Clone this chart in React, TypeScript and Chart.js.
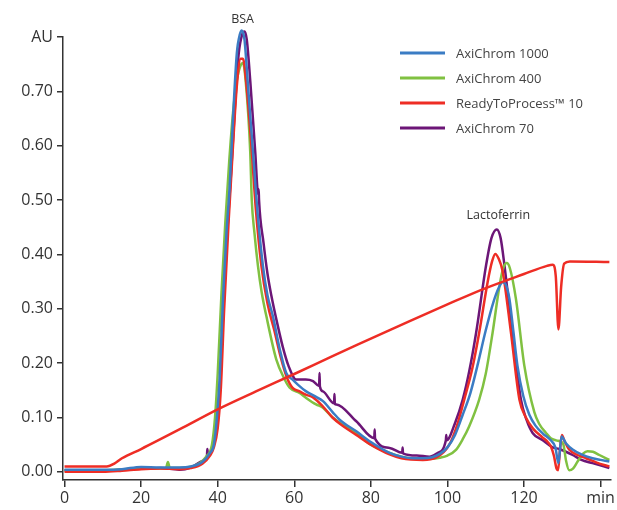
import { useEffect, useRef } from "react";
import { Chart, registerables } from "chart.js";

Chart.register(...registerables);

// AxiChrom 1000
const ax1000Min = [0, 5, 10, 15, 20, 25, 30, 33, 36, 38, 39, 39.8, 40.5, 41.4, 42.3, 43.1, 44, 45, 45.8, 46.3, 47, 47.9, 49.2, 50.5, 51.8, 53, 54.4, 56.2, 57.9, 59.5, 61, 63.1, 65.7, 67.5, 70, 72, 76.2, 80, 84.9, 88, 91, 93.6, 96, 98, 100, 102, 104, 106, 108, 110, 112, 113.5, 114.4, 115.2, 116.2, 117.2, 118.3, 119.8, 121.4, 123, 125, 127, 128.2, 129, 129.8, 131, 132.7, 135, 137.9, 140, 142.3];
const ax1000AU = [0.004, 0.004, 0.004, 0.005, 0.009, 0.008, 0.008, 0.01, 0.018, 0.035, 0.05, 0.1, 0.17, 0.32, 0.44, 0.52, 0.65, 0.77, 0.805, 0.812, 0.795, 0.712, 0.59, 0.47, 0.38, 0.325, 0.287, 0.226, 0.182, 0.17, 0.16, 0.148, 0.138, 0.13, 0.11, 0.095, 0.0745, 0.055, 0.035, 0.028, 0.025, 0.025, 0.027, 0.033, 0.045, 0.068, 0.105, 0.145, 0.2, 0.26, 0.312, 0.34, 0.349, 0.345, 0.318, 0.26, 0.195, 0.14, 0.105, 0.085, 0.07, 0.058, 0.045, 0.016, 0.065, 0.052, 0.041, 0.032, 0.025, 0.022, 0.019];

// AxiChrom 400
const ax400Min = [0, 10, 20, 26.5, 27, 27.5, 32, 35, 37, 38.5, 39.3, 40, 41, 42, 43, 44, 45, 46, 46.6, 47.3, 48.5, 48.9, 49.6, 50.5, 51.5, 52.7, 55.3, 57.5, 58.8, 61.4, 63.1, 65.7, 67.5, 70, 72, 76.2, 80, 84.9, 88, 92, 96, 98, 100, 102.3, 104, 105.7, 108.3, 110, 111.8, 113.6, 114.6, 115.5, 116.3, 117.9, 120.1, 122.7, 124, 125.7, 127, 128.4, 129.5, 130.3, 131, 131.8, 132.8, 134, 135.5, 136.6, 138, 139.7, 142.3];
const ax400AU = [0.003, 0.003, 0.006, 0.007, 0.018, 0.007, 0.008, 0.015, 0.028, 0.05, 0.1, 0.18, 0.33, 0.46, 0.57, 0.66, 0.72, 0.748, 0.752, 0.72, 0.589, 0.5, 0.44, 0.38, 0.33, 0.287, 0.207, 0.17, 0.155, 0.145, 0.136, 0.124, 0.118, 0.1, 0.09, 0.071, 0.05, 0.035, 0.028, 0.024, 0.024, 0.026, 0.03, 0.041, 0.06, 0.084, 0.133, 0.18, 0.256, 0.342, 0.375, 0.384, 0.375, 0.318, 0.195, 0.11, 0.088, 0.072, 0.062, 0.058, 0.056, 0.05, 0.02, 0.003, 0.006, 0.019, 0.034, 0.038, 0.037, 0.031, 0.022];

// ReadyToProcess 10, UV trace
const rtpMin = [0, 10, 15, 20, 25, 30, 33, 36, 38, 39, 40, 40.8, 41.7, 42.9, 44, 45, 46, 46.6, 47.4, 48.8, 50, 51.4, 53, 54.8, 56.5, 58, 59.5, 61.4, 63, 64.9, 67.5, 70, 72, 76.2, 80, 84.9, 88, 93.6, 97, 100.5, 102.5, 104.4, 106.5, 108.3, 110.5, 111.7, 112.5, 113.4, 114.4, 116.6, 118.8, 120.5, 122.3, 124.9, 126.2, 127, 127.8, 128.5, 128.9, 129.4, 129.9, 130.5, 131.8, 134, 136.2, 139, 142.3];
const rtpAU = [0.0, 0.0, 0.002, 0.005, 0.006, 0.005, 0.007, 0.015, 0.03, 0.045, 0.08, 0.15, 0.3, 0.466, 0.6, 0.71, 0.76, 0.76, 0.72, 0.6, 0.48, 0.38, 0.31, 0.26, 0.21, 0.175, 0.155, 0.148, 0.142, 0.137, 0.12, 0.1, 0.088, 0.068, 0.05, 0.032, 0.025, 0.022, 0.026, 0.05, 0.085, 0.133, 0.19, 0.256, 0.349, 0.388, 0.401, 0.392, 0.37, 0.256, 0.133, 0.1, 0.08, 0.063, 0.055, 0.047, 0.03, 0.006, 0.003, 0.04, 0.068, 0.058, 0.041, 0.031, 0.025, 0.017, 0.01];

// ReadyToProcess 10, gradient trace
const gradMin = [0, 11, 13, 15, 20, 30, 40, 50, 60, 70, 80, 90, 100, 110, 120, 126, 127.5, 128.3, 129, 129.7, 130.5, 132, 142.3];
const gradAU = [0.01, 0.01, 0.015, 0.025, 0.042, 0.078, 0.115, 0.148, 0.18, 0.213, 0.245, 0.277, 0.308, 0.338, 0.364, 0.379, 0.381, 0.36, 0.262, 0.34, 0.383, 0.387, 0.386];

// AxiChrom 70
const ax70Min = [0, 10, 20, 25, 30, 33, 36, 37.2, 37.3, 37.5, 38.5, 39.5, 40.5, 41.5, 42.5, 43.5, 44.5, 45.5, 46.4, 47, 47.6, 48.5, 49.8, 50.6, 50.7, 50.8, 52, 53, 54, 55.5, 57, 58.5, 60.5, 63, 64.9, 66.5, 66.6, 66.7, 67.5, 70.4, 70.5, 70.6, 71, 76.2, 80.9, 81, 81.1, 84.9, 88.2, 88.3, 88.4, 92, 95.3, 97.5, 99.6, 99.7, 99.8, 102, 104, 105.7, 107.5, 110.1, 111.5, 112.9, 113.9, 114.9, 117, 119.2, 120.7, 122.3, 124.9, 127.5, 129.2, 132.7, 135, 137.9, 142.3];
const ax70AU = [0.003, 0.002, 0.006, 0.007, 0.004, 0.008, 0.02, 0.03, 0.042, 0.03, 0.042, 0.07, 0.15, 0.3, 0.44, 0.55, 0.67, 0.77, 0.805, 0.81, 0.795, 0.72, 0.589, 0.51, 0.52, 0.5, 0.42, 0.365, 0.325, 0.275, 0.23, 0.195, 0.17, 0.17, 0.167, 0.158, 0.182, 0.157, 0.148, 0.126, 0.143, 0.125, 0.124, 0.093, 0.062, 0.078, 0.061, 0.044, 0.035, 0.045, 0.034, 0.03, 0.028, 0.035, 0.058, 0.068, 0.058, 0.09, 0.133, 0.185, 0.256, 0.38, 0.43, 0.446, 0.43, 0.38, 0.256, 0.133, 0.095, 0.071, 0.058, 0.045, 0.042, 0.031, 0.022, 0.016, 0.007];

const yTicks = [0, 0.1, 0.2, 0.3, 0.4, 0.5, 0.6, 0.7, 0.8];
const xTicks = [0, 20, 40, 60, 80, 100, 120, 140];
const legendLabels = ["AxiChrom 1000", "AxiChrom 400", "ReadyToProcess™ 10", "AxiChrom 70"];
const peakLabels = [
  { text: "BSA", min: 46.5, au: 0.832 },
  { text: "Lactoferrin", min: 113.3, au: 0.472 },
];

const BLUE = "#3b7cc4";
const GREEN = "#80c141";
const RED = "#ee2d25";
const PURPLE = "#6c1677";

const toPoints = (xs: number[], ys: number[]) => xs.map((x, i) => ({ x, y: ys[i] }));

const FONT = "'Open Sans', 'DejaVu Sans', sans-serif";

const overlayPlugin = {
  id: "overlay",
  afterDraw(chart: any) {
    const ctx = chart.ctx;
    const xs = chart.scales.x;
    const ys = chart.scales.y;
    ctx.save();
    // peak names
    ctx.font = `12.5px ${FONT}`;
    ctx.fillStyle = "#333";
    ctx.textAlign = "center";
    ctx.textBaseline = "middle";
    peakLabels.forEach(p => {
      ctx.fillText(p.text, xs.getPixelForValue(p.min), ys.getPixelForValue(p.au));
    });
    // legend
    ctx.font = `13px ${FONT}`;
    ctx.textAlign = "left";
    legendLabels.forEach((label, i) => {
      const ds = chart.data.datasets.find((d: any) => d.label === label);
      const y = 53 + i * 25;
      ctx.strokeStyle = ds.borderColor;
      ctx.lineWidth = 3;
      ctx.beginPath();
      ctx.moveTo(400, y);
      ctx.lineTo(445, y);
      ctx.stroke();
      ctx.fillStyle = "#444";
      ctx.fillText(label, 456, y + 1);
    });
    ctx.restore();
  },
};

export default function App() {
  const chartRef = useRef<HTMLCanvasElement>(null);
  const chartInstance = useRef<Chart | null>(null);

  useEffect(() => {
    document.body.style.margin = "0";
    if (!chartRef.current) return;
    if (chartInstance.current) chartInstance.current.destroy();
    const ctx = chartRef.current.getContext("2d");
    if (!ctx) return;

    const line = (label: string, color: string, xs: number[], ys: number[], order: number) => ({
      label,
      data: toPoints(xs, ys),
      borderColor: color,
      backgroundColor: color,
      borderWidth: 2.5,
      pointRadius: 0,
      cubicInterpolationMode: "monotone" as const,
      clip: false as const,
      order,
    });

    chartInstance.current = new Chart(ctx, {
      type: "line",
      data: {
        datasets: [
          line("AxiChrom 1000", BLUE, ax1000Min, ax1000AU, 1),
          line("AxiChrom 400", GREEN, ax400Min, ax400AU, 3),
          line("ReadyToProcess™ 10", RED, rtpMin, rtpAU, 2),
          line("Gradient", RED, gradMin, gradAU, 0),
          line("AxiChrom 70", PURPLE, ax70Min, ax70AU, 4),
        ],
      },
      options: {
        responsive: true,
        maintainAspectRatio: false,
        animation: false,
        layout: { padding: { top: 37, right: 6, left: 0, bottom: 0 } },
        plugins: {
          legend: { display: false },
          tooltip: { enabled: false },
        },
        scales: {
          x: {
            type: "linear",
            min: -0.4,
            max: 142.6,
            afterBuildTicks: (axis: any) => {
              axis.ticks = xTicks.map(v => ({ value: v }));
            },
            afterFit: (scale: any) => {
              scale.height = 30;
            },
            border: { display: true, color: "#333", width: 1.5 },
            grid: { drawOnChartArea: false, drawTicks: true, tickLength: 7, color: "#333", lineWidth: 1.5 },
            ticks: {
              color: "#333",
              padding: 2,
              maxRotation: 0,
              font: { family: FONT, size: 16 },
              callback: (value: any) => (value === 140 ? "min" : String(value)),
            },
          },
          y: {
            type: "linear",
            min: -0.015,
            max: 0.8,
            afterBuildTicks: (axis: any) => {
              axis.ticks = yTicks.map(v => ({ value: v }));
            },
            afterFit: (scale: any) => {
              scale.width = 63;
            },
            border: { display: true, color: "#333", width: 1.5 },
            grid: { drawOnChartArea: false, drawTicks: true, tickLength: 6, color: "#333", lineWidth: 1.5 },
            ticks: {
              color: "#333",
              padding: 4,
              font: { family: FONT, size: 16 },
              callback: (value: any) => (value === 0.8 ? "AU" : Number(value).toFixed(2)),
            },
          },
        },
      },
      plugins: [overlayPlugin],
    });

    return () => {
      if (chartInstance.current) {
        chartInstance.current.destroy();
        chartInstance.current = null;
      }
    };
  }, []);

  return (
    <div style={{ width: 617, height: 510, position: "relative", background: "#fff" }}>
      <canvas ref={chartRef}></canvas>
    </div>
  );
}
